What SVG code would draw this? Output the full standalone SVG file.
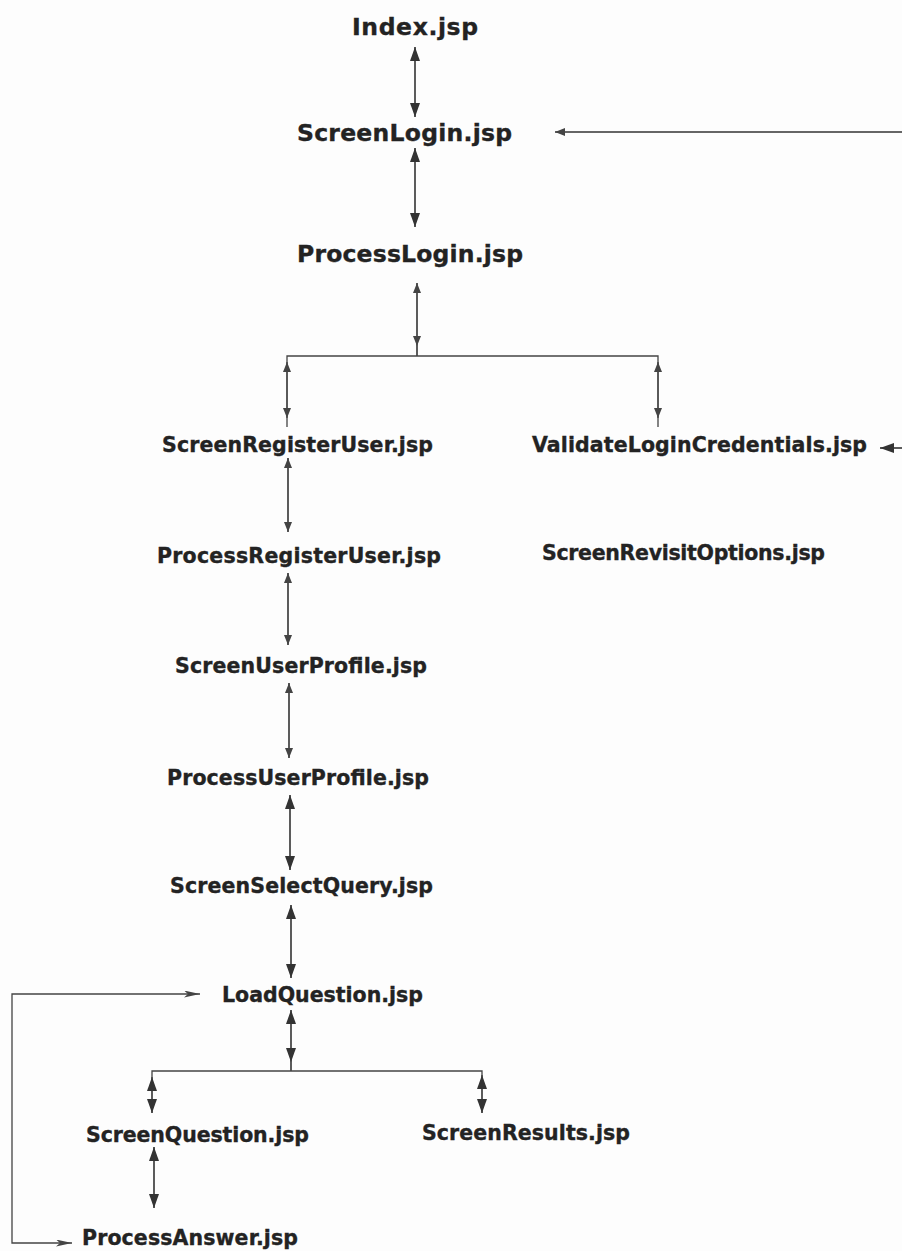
<svg xmlns="http://www.w3.org/2000/svg" width="902" height="1251" viewBox="0 0 902 1251">
  <style>
    .label { font-family: "DejaVu Sans", Verdana, sans-serif; font-weight: bold; fill: #232323; stroke: #232323; stroke-width: 0.35; }
    .big { font-size: 23.5px; }
    .small { font-size: 20.5px; }
    .link { fill: none; stroke: #333; stroke-width: 1.6; }
    .thin { fill: none; stroke: #444; stroke-width: 1.3; }
  </style>
  <defs>
    <marker id="headL" viewBox="0 0 14 10" refX="14" refY="5" markerWidth="14" markerHeight="10" markerUnits="userSpaceOnUse" orient="auto-start-reverse">
      <path d="M0,0 L14,5 L0,10 z" fill="#333"/>
    </marker>
    <marker id="headS" viewBox="0 0 10 8" refX="10" refY="4" markerWidth="10" markerHeight="8" markerUnits="userSpaceOnUse" orient="auto-start-reverse">
      <path d="M0,0 L10,4 L0,8 z" fill="#444"/>
    </marker>
    <marker id="headSlim" viewBox="0 0 16 7" refX="16" refY="3.5" markerWidth="16" markerHeight="7" markerUnits="userSpaceOnUse" orient="auto-start-reverse">
      <path d="M0,0 L16,3.5 L0,7 L4,3.5 z" fill="#444"/>
    </marker>
  </defs>

  <rect width="902" height="1251" fill="#fdfdfd"/>

  <!-- connectors -->
  <g id="connectors">
    <path class="link" d="M415,47 V117" marker-start="url(#headL)" marker-end="url(#headL)"/>
    <path class="link" d="M415,148 V227" marker-start="url(#headL)" marker-end="url(#headL)"/>
    <path class="link" d="M902,132 H555" marker-end="url(#headS)"/>

    <!-- ProcessLogin fan-out -->
    <path class="link" d="M417,283 V346" marker-start="url(#headS)" marker-end="url(#headS)"/>
    <path class="link" d="M417,346 V356"/>
    <path class="thin" d="M287,427 V356 H658 V427"/>
    <path class="thin" d="M287,362 V418" marker-start="url(#headS)" marker-end="url(#headS)"/>
    <path class="thin" d="M658,362 V418" marker-start="url(#headS)" marker-end="url(#headS)"/>
    <path class="link" d="M902,448 H880" marker-end="url(#headL)"/>

    <!-- registration / profile chain -->
    <path class="link" d="M288,458 V532" marker-start="url(#headS)" marker-end="url(#headS)"/>
    <path class="link" d="M288,573 V645" marker-start="url(#headS)" marker-end="url(#headS)"/>
    <path class="link" d="M289,683 V758" marker-start="url(#headS)" marker-end="url(#headS)"/>
    <path class="link" d="M290,795 V870" marker-start="url(#headL)" marker-end="url(#headL)"/>
    <path class="link" d="M291,905 V978" marker-start="url(#headL)" marker-end="url(#headL)"/>

    <!-- LoadQuestion fan-out -->
    <path class="link" d="M291,1010 V1062" marker-start="url(#headL)" marker-end="url(#headL)"/>
    <path class="link" d="M291,1062 V1071"/>
    <path class="thin" d="M152,1077 V1071 H482 V1075"/>
    <path class="link" d="M152,1077 V1113" marker-start="url(#headL)" marker-end="url(#headL)"/>
    <path class="link" d="M482,1075 V1113" marker-start="url(#headL)" marker-end="url(#headL)"/>
    <path class="link" d="M154,1147 V1208" marker-start="url(#headL)" marker-end="url(#headL)"/>

    <!-- answer loop back to LoadQuestion -->
    <path class="thin" d="M72,1243 H12 V994 H200" marker-start="url(#headSlim)" marker-end="url(#headSlim)"/>
  </g>

  <!-- pages -->
  <g id="n-index"><text class="label big" x="352" y="35" textLength="126">Index.jsp</text></g>
  <g id="n-screenlogin"><text class="label big" x="297" y="141" textLength="215">ScreenLogin.jsp</text></g>
  <g id="n-processlogin"><text class="label big" x="297" y="262" textLength="226">ProcessLogin.jsp</text></g>
  <g id="n-screenregisteruser"><text class="label small" x="162" y="452" textLength="271">ScreenRegisterUser.jsp</text></g>
  <g id="n-validatelogincredentials"><text class="label small" x="532" y="452" textLength="335">ValidateLoginCredentials.jsp</text></g>
  <g id="n-processregisteruser"><text class="label small" x="157" y="563" textLength="284">ProcessRegisterUser.jsp</text></g>
  <g id="n-screenrevisitoptions"><text class="label small" x="542" y="560" textLength="283">ScreenRevisitOptions.jsp</text></g>
  <g id="n-screenuserprofile"><text class="label small" x="175" y="673" textLength="252">ScreenUserProfile.jsp</text></g>
  <g id="n-processuserprofile"><text class="label small" x="167" y="785" textLength="262">ProcessUserProfile.jsp</text></g>
  <g id="n-screenselectquery"><text class="label small" x="170" y="893" textLength="263">ScreenSelectQuery.jsp</text></g>
  <g id="n-loadquestion"><text class="label small" x="222" y="1002" textLength="201">LoadQuestion.jsp</text></g>
  <g id="n-screenquestion"><text class="label small" x="86" y="1142" textLength="223">ScreenQuestion.jsp</text></g>
  <g id="n-screenresults"><text class="label small" x="422" y="1140" textLength="208">ScreenResults.jsp</text></g>
  <g id="n-processanswer"><text class="label small" x="82" y="1245" textLength="216">ProcessAnswer.jsp</text></g>
</svg>
